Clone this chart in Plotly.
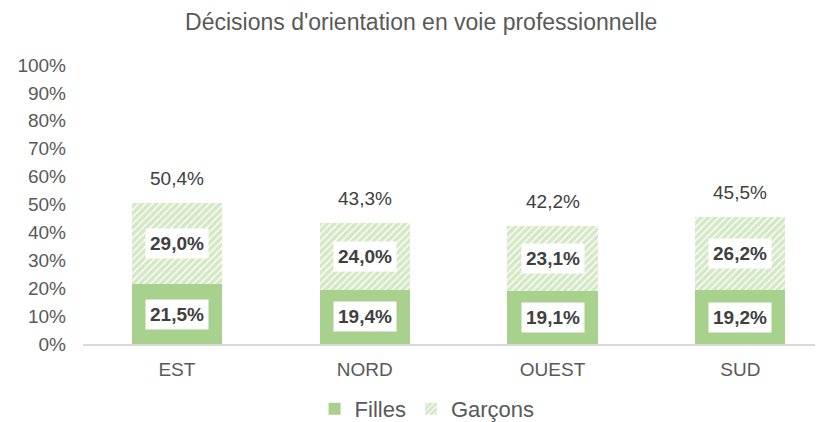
import plotly.graph_objects as go

categories = ["EST", "NORD", "OUEST", "SUD"]
filles = [21.5, 19.4, 19.1, 19.2]
garcons = [29.0, 24.0, 23.1, 26.2]
totals = [50.4, 43.3, 42.2, 45.5]
y_ticks = list(range(0, 101, 10))

GREEN = "#a9d18e"
TXT = "#595959"
LBL = "#404040"
FONT = "Arial, Liberation Sans, sans-serif"

def fmt(v):
    return f"{v:.1f}".replace(".", ",") + "%"

fig = go.Figure()
fig.add_trace(go.Bar(
    x=categories, y=filles, name="Filles",
    marker=dict(color=GREEN, line=dict(width=0)),
))
fig.add_trace(go.Bar(
    x=categories, y=garcons, name="Garçons",
    marker=dict(color="white", line=dict(width=0),
                pattern=dict(shape="/", fgcolor=GREEN, bgcolor="white",
                             size=5, solidity=0.72)),
))

ann = []
for c, f, g, t in zip(categories, filles, garcons, totals):
    ann.append(dict(x=c, y=f / 2, text=f"<b>{fmt(f)}</b>", showarrow=False,
                    bgcolor="white", borderpad=4,
                    font=dict(size=19, color=LBL, family=FONT)))
    ann.append(dict(x=c, y=f + g / 2, text=f"<b>{fmt(g)}</b>", showarrow=False,
                    bgcolor="white", borderpad=4,
                    font=dict(size=19, color=LBL, family=FONT)))
    ann.append(dict(x=c, y=t, text=fmt(t), showarrow=False, yanchor="bottom",
                    yshift=12,
                    font=dict(size=19, color=LBL, family=FONT)))

fig.update_layout(
    width=815, height=422,
    barmode="stack", bargap=0.52,
    paper_bgcolor="white", plot_bgcolor="white",
    margin=dict(l=75, r=0, t=57, b=86),
    font=dict(family=FONT, color=TXT, size=18),
    title=dict(text="Décisions d'orientation en voie professionnelle",
               x=0.507, xanchor="center", y=1 - 14 / 422, yanchor="middle",
               font=dict(size=23, color=TXT, family=FONT)),
    xaxis=dict(range=[-0.5, 3.44], showline=True, linecolor="#d9d9d9",
               linewidth=1.5, ticks="", showgrid=False,
               ticklabelstandoff=7,
               tickfont=dict(size=19, color=TXT)),
    yaxis=dict(range=[0, 100], tickvals=y_ticks,
               ticktext=[f"{v}%" for v in y_ticks], showgrid=False,
               zeroline=False, ticks="", ticklabelstandoff=16,
               tickfont=dict(size=19, color=TXT)),
    legend=dict(orientation="h", x=0.465, xanchor="center", y=-0.308,
                yanchor="bottom", font=dict(size=22, color=TXT, family=FONT),
                traceorder="normal", itemwidth=30, tracegroupgap=0),
    annotations=ann,
    showlegend=True,
)

fig.write_html("out.html")
